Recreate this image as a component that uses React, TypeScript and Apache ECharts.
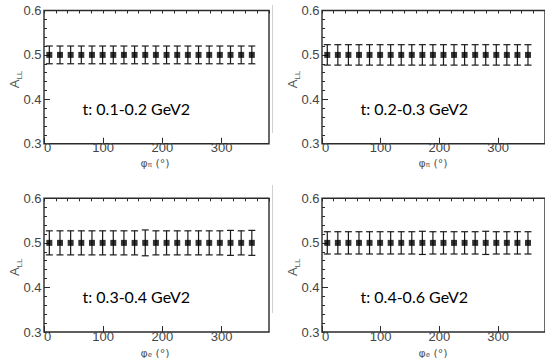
import React, { useEffect, useRef } from "react";
import * as echarts from "echarts";

// phi bin centres (degrees)
const PHI = [9, 27, 45, 63, 81, 99, 117, 135, 153, 171, 189, 207, 225, 243, 261, 279, 297, 315, 333, 351];

// A_LL values per t-bin
const VALUES_T1 = [0.5, 0.5, 0.5, 0.5, 0.5, 0.5, 0.5, 0.5, 0.5, 0.5, 0.5, 0.5, 0.5, 0.5, 0.5, 0.5, 0.5, 0.5, 0.5, 0.5];
const VALUES_T2 = [0.5, 0.5, 0.5, 0.5, 0.5, 0.5, 0.5, 0.5, 0.5, 0.5, 0.5, 0.5, 0.5, 0.5, 0.5, 0.5, 0.5, 0.5, 0.5, 0.5];
const VALUES_T3 = [0.5, 0.5, 0.5, 0.5, 0.5, 0.5, 0.5, 0.5, 0.5, 0.5, 0.5, 0.5, 0.5, 0.5, 0.5, 0.5, 0.5, 0.5, 0.5, 0.5];
const VALUES_T4 = [0.5, 0.5, 0.5, 0.5, 0.5, 0.5, 0.5, 0.5, 0.5, 0.5, 0.5, 0.5, 0.5, 0.5, 0.5, 0.5, 0.5, 0.5, 0.5, 0.5];

// statistical errors per t-bin
const ERRORS_T1 = [0.02, 0.02, 0.02, 0.02, 0.02, 0.02, 0.02, 0.02, 0.02, 0.02, 0.02, 0.02, 0.02, 0.02, 0.02, 0.02, 0.02, 0.02, 0.02, 0.02];
const ERRORS_T2 = [0.023, 0.023, 0.023, 0.023, 0.023, 0.023, 0.023, 0.023, 0.023, 0.023, 0.023, 0.023, 0.023, 0.023, 0.023, 0.023, 0.023, 0.023, 0.023, 0.023];
const ERRORS_T3 = [0.027, 0.027, 0.027, 0.027, 0.027, 0.027, 0.027, 0.027, 0.027, 0.029, 0.027, 0.027, 0.027, 0.027, 0.027, 0.027, 0.027, 0.028, 0.027, 0.028];
const ERRORS_T4 = [0.025, 0.025, 0.025, 0.025, 0.025, 0.025, 0.025, 0.025, 0.025, 0.026, 0.025, 0.025, 0.025, 0.025, 0.025, 0.026, 0.025, 0.025, 0.025, 0.025];

const T_LABELS = ["t: 0.1-0.2 GeV2", "t: 0.2-0.3 GeV2", "t: 0.3-0.4 GeV2", "t: 0.4-0.6 GeV2"];
const X_SUBSCRIPTS = ["π", "π", "e", "e"];

const X_MIN = 0;
const X_MAX = 380;
const Y_MIN = 0.3;
const Y_MAX = 0.6;

const PANELS = [
  { values: VALUES_T1, errors: ERRORS_T1 },
  { values: VALUES_T2, errors: ERRORS_T2 },
  { values: VALUES_T3, errors: ERRORS_T3 },
  { values: VALUES_T4, errors: ERRORS_T4 },
];

const GRIDS = [
  { left: 44, top: 10.5, width: 225, height: 133.2, titleGap: 19.5 },
  { left: 322, top: 10.5, width: 225, height: 133.2, titleGap: 19.5 },
  { left: 44, top: 198.3, width: 225, height: 133.7, titleGap: 21 },
  { left: 322, top: 198.3, width: 225, height: 133.7, titleGap: 21 },
];

const TICK_FONT = "Liberation Sans";
const TICK_COLOR = "#444";
const AXIS_COLOR = "#2a2a2a";

export default function App() {
  const ref = useRef<HTMLDivElement>(null);

  useEffect(() => {
    document.body.style.margin = "0";
    if (!ref.current) return;
    const chart = echarts.init(ref.current, undefined, { renderer: "svg" });

    const grid: any[] = [];
    const xAxis: any[] = [];
    const yAxis: any[] = [];
    const series: any[] = [];
    const graphic: any[] = [];

    PANELS.forEach((p, i) => {
      const g = GRIDS[i];
      grid.push({
        left: g.left,
        top: g.top,
        width: g.width,
        height: g.height,
        show: true,
        borderColor: AXIS_COLOR,
        borderWidth: 1.4,
        backgroundColor: "transparent",
      });
      // major x axis
      xAxis.push({
        gridIndex: i,
        type: "value",
        min: X_MIN,
        max: X_MAX,
        interval: 100,
        axisLine: { show: false },
        axisTick: { show: true, inside: true, length: 6, lineStyle: { color: AXIS_COLOR, width: 1 } },
        axisLabel: {
          show: true,
          showMaxLabel: false,
          alignMinLabel: "left",
          margin: -2,
          fontFamily: TICK_FONT,
          fontSize: 13,
          lineHeight: 12,
          color: TICK_COLOR,
        },
        splitLine: { show: false },
      });
      // minor x ticks
      xAxis.push({
        gridIndex: i,
        type: "value",
        min: X_MIN,
        max: X_MAX,
        interval: 20,
        axisLine: { show: false },
        axisTick: { show: true, inside: true, length: 3, lineStyle: { color: AXIS_COLOR, width: 1 } },
        axisLabel: { show: false },
        splitLine: { show: false },
      });
      yAxis.push({
        gridIndex: i,
        type: "value",
        min: Y_MIN,
        max: Y_MAX,
        interval: 0.1,
        axisLine: { show: false },
        axisTick: { show: true, inside: true, length: 6, lineStyle: { color: AXIS_COLOR, width: 1 } },
        minorTick: { show: true, splitNumber: 5, length: 3, lineStyle: { color: AXIS_COLOR, width: 1 } },
        axisLabel: {
          show: true,
          margin: 2.5,
          fontFamily: TICK_FONT,
          fontSize: 13,
          color: TICK_COLOR,
          formatter: (v: number) => v.toFixed(1),
        },
        splitLine: { show: false },
      });

      const data = PHI.map((phi, j) => [phi, p.values[j], p.errors[j]]);
      series.push({
        type: "custom",
        xAxisIndex: 2 * i,
        yAxisIndex: i,
        data,
        encode: { x: 0, y: 1 },
        renderItem: (_params: any, api: any) => {
          const x = api.value(0);
          const y = api.value(1);
          const e = api.value(2);
          const top = api.coord([x, y + e]);
          const bot = api.coord([x, y - e]);
          const w = 3.5;
          const st = { stroke: "#1a1a1a", lineWidth: 1.2 };
          return {
            type: "group",
            children: [
              { type: "line", shape: { x1: top[0], y1: top[1], x2: bot[0], y2: bot[1] }, style: st },
              { type: "line", shape: { x1: top[0] - w, y1: top[1], x2: top[0] + w, y2: top[1] }, style: st },
              { type: "line", shape: { x1: bot[0] - w, y1: bot[1], x2: bot[0] + w, y2: bot[1] }, style: st },
            ],
          };
        },
        z: 2,
      });
      series.push({
        type: "scatter",
        xAxisIndex: 2 * i,
        yAxisIndex: i,
        data: PHI.map((phi, j) => [phi, p.values[j]]),
        symbol: "rect",
        symbolSize: 6,
        itemStyle: { color: "#000" },
        z: 3,
      });

      // y-axis title A_LL
      graphic.push({
        type: "text",
        x: g.left - 30,
        y: g.top + 69,
        rotation: Math.PI / 2,
        style: {
          text: "{a|A}{s|LL}",
          align: "center",
          verticalAlign: "middle",
          fill: "#555",
          rich: {
            a: { fontFamily: TICK_FONT, fontSize: 13, lineHeight: 18, verticalAlign: "middle", fill: "#555" },
            s: { fontFamily: TICK_FONT, fontSize: 8, lineHeight: 9, verticalAlign: "bottom", fill: "#555" },
          },
        },
      });
      // x-axis title
      graphic.push({
        type: "text",
        x: g.left + 111,
        y: g.top + g.height + g.titleGap,
        style: {
          text: "{a|φ}{s|" + X_SUBSCRIPTS[i] + "}{a| (°)}",
          align: "center",
          verticalAlign: "middle",
          fill: "#555",
          rich: {
            a: { fontFamily: "DejaVu Sans", fontSize: 11, lineHeight: 10, verticalAlign: "middle", fill: "#555" },
            s: { fontFamily: "DejaVu Sans", fontSize: 7, lineHeight: 6, verticalAlign: "bottom", fill: "#555" },
          },
        },
      });
      // t-bin annotation
      graphic.push({
        type: "text",
        x: g.left + 38.5,
        y: g.top + 98,
        style: {
          text: T_LABELS[i],
          fontFamily: "Lato",
          fontSize: 16,
          fill: "#000",
          align: "left",
          verticalAlign: "middle",
        },
      });
    });

    // faint image-edge lines next to right panels
    graphic.push({ type: "line", shape: { x1: 272.5, y1: 5, x2: 272.5, y2: 133 }, style: { stroke: "#d0d0d0", lineWidth: 1 } });
    graphic.push({ type: "line", shape: { x1: 272.5, y1: 185, x2: 272.5, y2: 313 }, style: { stroke: "#d0d0d0", lineWidth: 1 } });

    chart.setOption({
      animation: false,
      backgroundColor: "#fff",
      grid,
      xAxis,
      yAxis,
      series,
      graphic,
    });

    return () => chart.dispose();
  }, []);

  return <div ref={ref} style={{ width: 545, height: 358 }} />;
}
